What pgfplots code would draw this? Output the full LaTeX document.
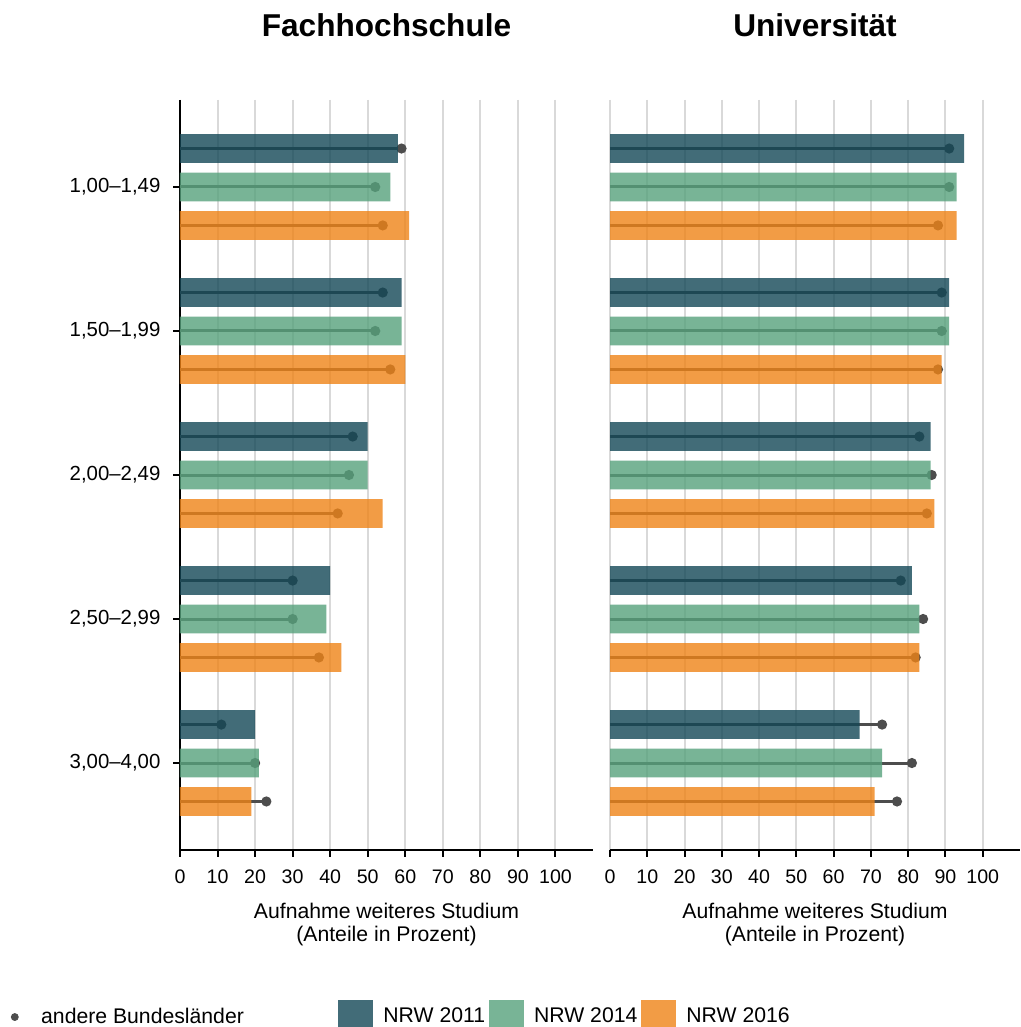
\documentclass[border=0pt]{standalone}
\usepackage{fontspec}
\setmainfont{Liberation Sans}
\usepackage{pgfplots}
\pgfplotsset{compat=1.18}

\definecolor{nrwA}{HTML}{134756}
\definecolor{nrwB}{HTML}{56A17C}
\definecolor{nrwC}{HTML}{EF8316}
\definecolor{dotgrey}{HTML}{4D4D4D}
\definecolor{gridgrey}{HTML}{D9D9D9}

\pgfplotsset{
  panel/.style={
    scale only axis, height=375pt,
    xmin=0, xmax=110, ymin=0.396, ymax=5.604, y dir=reverse,
    xtick={0,10,...,100},
    xmajorgrids, grid style={gridgrey, line width=1pt},
    axis x line*=bottom,
    x axis line style={-, line width=1pt},
    tick align=outside, major tick length=3.25pt,
    tick style={black, line width=1pt},
    clip marker paths=true,
    /pgf/number format/assume math mode=true,
    tick label style={font=\fontsize{9.8}{11}\selectfont},
    xticklabel style={yshift=-3pt},
    yticklabel style={xshift=-3pt, font=\fontsize{10.2}{11}\selectfont},
    title style={font=\fontsize{15.8}{18}\selectfont\bfseries,
      at={(axis description cs:0.5,1)}, anchor=base, yshift=25.5pt},
    xlabel={Aufnahme weiteres Studium\\(Anteile in Prozent)},
    xlabel style={at={(axis description cs:0.5,0)}, anchor=north, yshift=-26.5pt,
      inner sep=0pt, align=center, font=\fontsize{10.6}{11.5}\selectfont},
  },
  bar/.style={xbar, bar width=14.35pt, fill=#1, fill opacity=0.8, draw=none, forget plot},
  stem/.style={xcomb, dotgrey, line width=1.5pt, mark=*, mark size=1.75pt,
    mark options={draw=none, fill=dotgrey}, forget plot},
}

\begin{document}
\begin{tikzpicture}
\path[use as bounding box] (-90pt,-88.5pt) rectangle (420.5pt,425pt);

% Fachhochschule
\begin{axis}[panel, width=206.5pt, at={(0,0)},
  title={Fachhochschule},
  axis y line*=left, y axis line style={-, line width=1pt},
  ytick={1,2,3,4,5},
  yticklabels={{1,00–1,49},{1,50–1,99},{2,00–2,49},{2,50–2,99},{3,00–4,00}},
  legend style={at={(axis description cs:-0.4104,-0.2227)}, anchor=west,
    draw=none, fill=none, inner sep=0pt, nodes={inner sep=0pt},
    font=\fontsize{10.6}{12}\selectfont,
    /tikz/every odd column/.style={column sep=11.25pt}},
  legend cell align=left,
  legend image code/.code={\fill[dotgrey] (1.75pt,0pt) circle (1.75pt);},
]
\addplot[stem] coordinates {(59,0.733) (54,1.733) (46,2.733) (30,3.733) (11,4.733)};
\addplot[stem] coordinates {(52,1) (52,2) (45,3) (30,4) (20,5)};
\addplot[stem] coordinates {(54,1.267) (56,2.267) (42,3.267) (37,4.267) (23,5.267)};
\addplot[bar=nrwA] coordinates {(58,0.733) (59,1.733) (50,2.733) (40,3.733) (20,4.733)};
\addplot[bar=nrwB] coordinates {(56,1) (59,2) (50,3) (39,4) (21,5)};
\addplot[bar=nrwC] coordinates {(61,1.267) (60,2.267) (54,3.267) (43,4.267) (19,5.267)};
\addlegendimage{dotgrey}
\addlegendentry{andere Bundesländer}
\end{axis}

% Universitaet
\begin{axis}[panel, width=205pt, at={(215pt,0)},
  title={Universität},
  axis y line=none, ytick=\empty,
  legend columns=3,
  legend style={at={(axis description cs:-0.6634,-0.2227)}, anchor=west,
    draw=none, fill=none, inner sep=0pt, nodes={inner sep=0pt},
    font=\fontsize{10.6}{12}\selectfont,
    /tikz/every odd column/.style={column sep=5pt},
    /tikz/every even column/.style={column sep=2pt}},
  legend cell align=left,
  legend image code/.code={\fill[#1] (0pt,-8.75pt) rectangle (17.5pt,8.75pt);},
]
\addplot[stem] coordinates {(91,0.733) (89,1.733) (83,2.733) (78,3.733) (73,4.733)};
\addplot[stem] coordinates {(91,1) (89,2) (86.3,3) (84,4) (81,5)};
\addplot[stem] coordinates {(88,1.267) (88,2.267) (85,3.267) (82,4.267) (77,5.267)};
\addplot[bar=nrwA] coordinates {(95,0.733) (91,1.733) (86,2.733) (81,3.733) (67,4.733)};
\addplot[bar=nrwB] coordinates {(93,1) (91,2) (86,3) (83,4) (73,5)};
\addplot[bar=nrwC] coordinates {(93,1.267) (89,2.267) (87,3.267) (83,4.267) (71,5.267)};
\addlegendimage{fill=nrwA, fill opacity=0.8, draw=none}
\addlegendentry{NRW 2011}
\addlegendimage{fill=nrwB, fill opacity=0.8, draw=none}
\addlegendentry{NRW 2014}
\addlegendimage{fill=nrwC, fill opacity=0.8, draw=none}
\addlegendentry{NRW 2016}
\end{axis}
\end{tikzpicture}
\end{document}
